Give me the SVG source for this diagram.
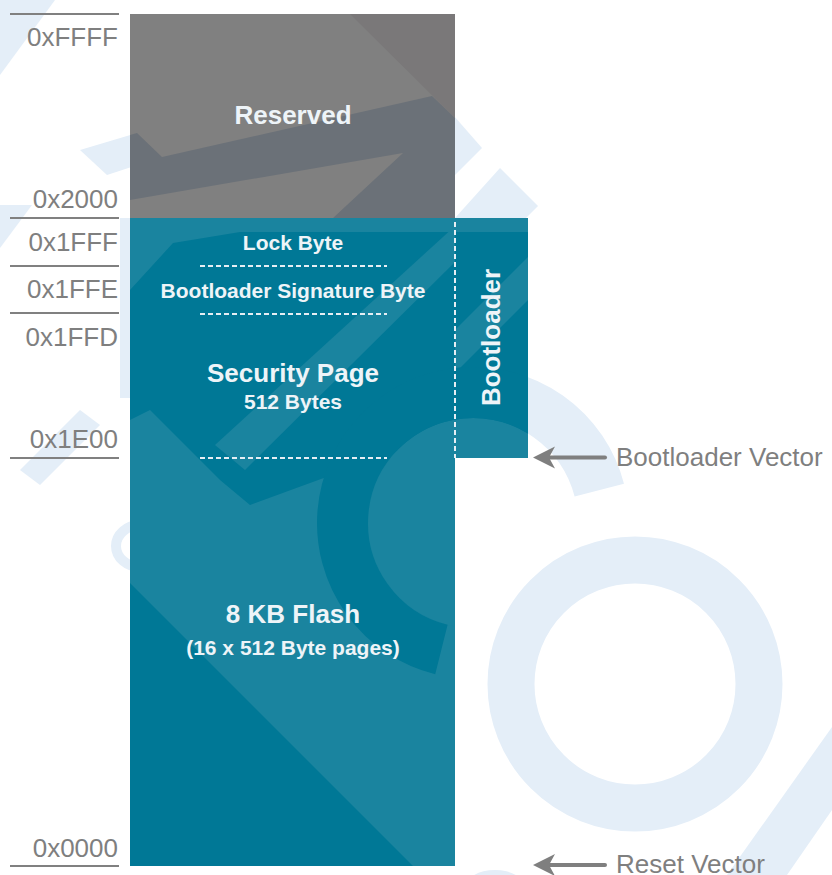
<svg xmlns="http://www.w3.org/2000/svg" width="832" height="875" viewBox="0 0 832 875">
<style>
.addr{font-family:"Liberation Sans",Arial,sans-serif;font-size:26px;fill:#7f7f7f;text-anchor:end}
.lbl{font-family:"Liberation Sans",Arial,sans-serif;font-weight:bold;fill:#eef4f8;text-anchor:middle}
.side{font-family:"Liberation Sans",Arial,sans-serif;font-size:26px;fill:#7f7f7f}
.rule{stroke:#808080;stroke-width:2}
.dash{stroke:#e6eef4;stroke-width:2;stroke-dasharray:5,3}
.wm{fill:#e4eef8}
.dk{fill:#007896}
.lt{fill:#1a849f}
.shaft{stroke:#7f7f7f;stroke-width:4;stroke-linecap:round;fill:none}
.head{fill:#7f7f7f}
</style>
<defs>
<clipPath id="teal">
<path d="M130,218 H528 V458 H455 V866 H130 Z"/>
</clipPath>
</defs>
<rect width="832" height="875" fill="#ffffff"/>
<g id="watermark">
<polygon class="wm" points="0,0 55,0 0,75"/>
<polygon class="wm" points="80,150 137,133 162,157 107,175"/>
<polygon class="wm" points="0,205 32,205 0,248"/>
<rect class="wm" x="120" y="218" width="10" height="180"/>
<polygon class="wm" points="80,410 100,425 40,485 20,470"/>
<ellipse cx="140" cy="546" rx="24" ry="21" fill="none" stroke="#e4eef8" stroke-width="10"/>
<polygon class="wm" points="440,100 482,148 455,175 455,110"/>
<polygon class="wm" points="455,218 500,168 538,206 526,218"/>
<path d="M599.3,490.1 A130.5,130.5 0 1 0 441.4,649.6" fill="none" stroke="#e4eef8" stroke-width="51"/>
<circle cx="635" cy="684" r="124" fill="none" stroke="#e4eef8" stroke-width="47"/>
<polygon class="wm" points="832,727 727,875 787,875 832,810"/>
<ellipse cx="495" cy="888" rx="30" ry="18" fill="#e4eef8"/>
</g>
<g id="reserved">
<rect x="130" y="14" width="325" height="204" fill="#808080"/>
<polygon points="350,14 455,14 455,118" fill="#7a7879"/>
<polygon points="130,135 137,133 162,157 432,96 455,118 455,218 333,218 403,153 130,200" fill="#6b7178"/>
<text class="lbl" x="293" y="124" font-size="26">Reserved</text>
</g>
<g id="flash">
<g clip-path="url(#teal)">
<rect x="130" y="218" width="398" height="648" class="lt"/>
<polygon class="dk" points="130,290 173,243 240,232 528,232 528,458 455,458 455,430 250,505 220,480 150,410 130,420"/>
<polygon class="lt" points="215,445 245,470 455,262 455,226"/>
<polygon class="lt" points="455,330 528,257 528,300 455,373"/>
<circle cx="473" cy="523" r="105" class="lt"/>
<path d="M599.3,490.1 A130.5,130.5 0 1 0 441.4,649.6" fill="none" stroke="#007896" stroke-width="51"/>
<polygon class="dk" points="130,583 413,866 130,866"/>
</g>
<text class="lbl" x="293" y="623" font-size="26">8 KB Flash</text>
<text class="lbl" x="293" y="655" font-size="21">(16 x 512 Byte pages)</text>
</g>
<g id="lockbyte">
<text class="lbl" x="293" y="250" font-size="21">Lock Byte</text>
<line class="dash" x1="200" y1="266" x2="387" y2="266"/>
</g>
<g id="signature">
<text class="lbl" x="293" y="298" font-size="21">Bootloader Signature Byte</text>
<line class="dash" x1="200" y1="314" x2="387" y2="314"/>
</g>
<g id="security">
<text class="lbl" x="293" y="382" font-size="26">Security Page</text>
<text class="lbl" x="293" y="409" font-size="21">512 Bytes</text>
<line class="dash" x1="200" y1="458" x2="387" y2="458"/>
</g>
<g id="bootloader">
<line class="dash" x1="455" y1="222" x2="455" y2="458" stroke-dasharray="4,3"/>
<text class="lbl" x="0" y="0" font-size="26" transform="translate(500,337.5) rotate(-90)">Bootloader</text>
</g>
<g id="addresses">
<line class="rule" x1="10" y1="14" x2="119" y2="14"/>
<text class="addr" x="118" y="46">0xFFFF</text>
<text class="addr" x="118" y="208">0x2000</text>
<line class="rule" x1="10" y1="218" x2="119" y2="218"/>
<text class="addr" x="118" y="251">0x1FFF</text>
<line class="rule" x1="10" y1="266" x2="119" y2="266"/>
<text class="addr" x="118" y="298">0x1FFE</text>
<line class="rule" x1="10" y1="313" x2="119" y2="313"/>
<text class="addr" x="118" y="346">0x1FFD</text>
<text class="addr" x="118" y="448">0x1E00</text>
<line class="rule" x1="10" y1="458" x2="119" y2="458"/>
<text class="addr" x="118" y="857">0x0000</text>
<line class="rule" x1="10" y1="866" x2="119" y2="866"/>
</g>
<g id="connectors">
<line class="shaft" x1="548" y1="457.5" x2="605" y2="457.5"/>
<path class="head" d="M533,457.5 L555,446.5 L549,457.5 L555,468.5 Z"/>
<line class="shaft" x1="548" y1="865" x2="605" y2="865"/>
<path class="head" d="M533,865 L555,854 L549,865 L555,876 Z"/>
</g>
<g id="vectors">
<text class="side" x="616" y="466">Bootloader Vector</text>
<text class="side" x="616" y="873">Reset Vector</text>
</g>
</svg>
